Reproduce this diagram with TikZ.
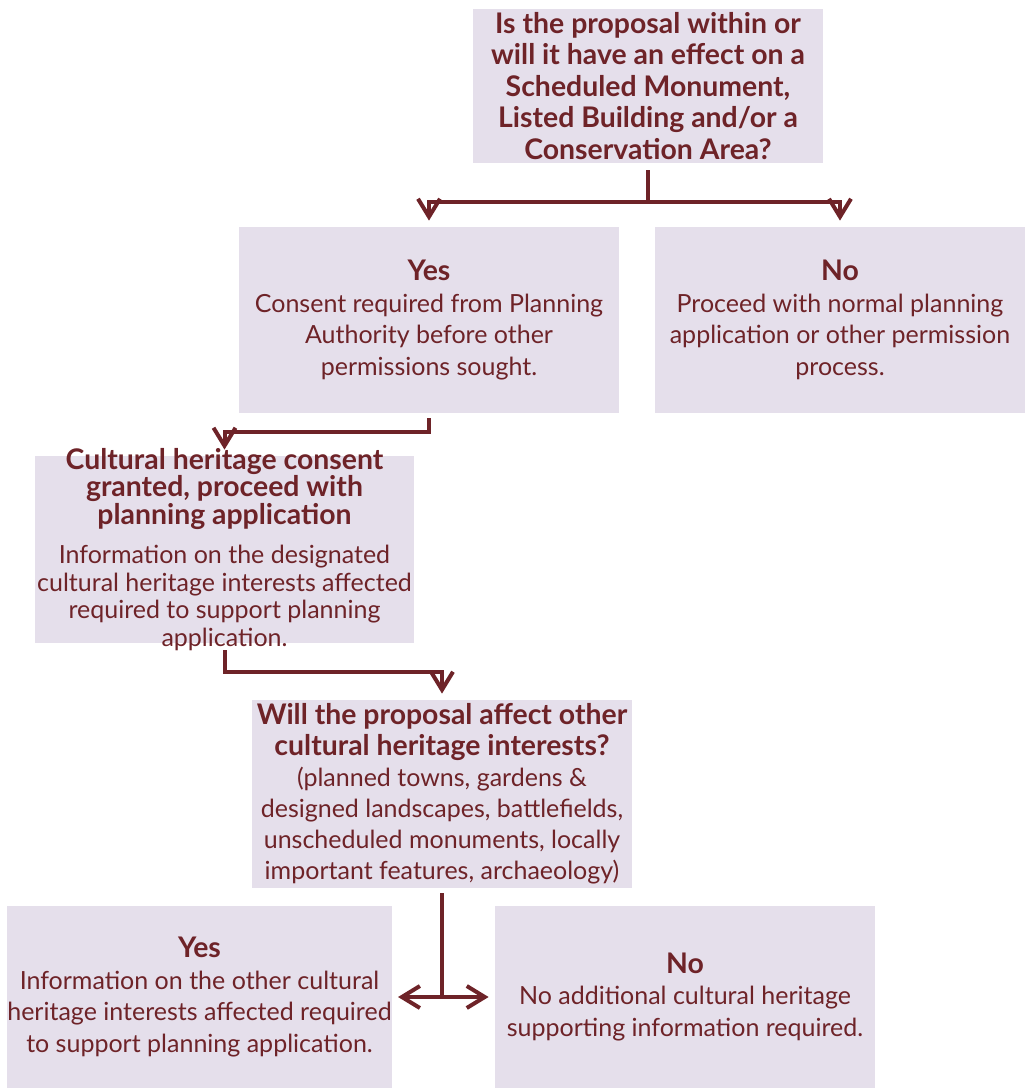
\documentclass[tikz,border=0pt]{standalone}
\usepackage{fontspec}
\setmainfont{Lato}
\usetikzlibrary{arrows.meta,calc}
\definecolor{maroon}{RGB}{110,35,40}
\definecolor{boxfill}{RGB}{229,223,235}
\newcommand{\hd}[1]{{\fontsize{14.2}{15.75}\selectfont\bfseries #1}}
\newcommand{\hdc}[1]{{\fontsize{14.2}{13.75}\selectfont\bfseries #1}}
\tikzset{
  box/.style={fill=boxfill,text=maroon,align=center,inner sep=0pt,font=\fontsize{12.5}{15.75}\selectfont},
  boxtext/.style={text=maroon,align=center,inner sep=0pt,font=\fontsize{12.5}{13.75}\selectfont},
  link/.style={draw=maroon,line width=2pt},
  arr/.style={link,-{Straight Barb[length=9pt,width=11pt]},shorten >=3pt}
}
\begin{document}
\begin{tikzpicture}[x=0.5pt,y=-0.5pt]
		\useasboundingbox (0,0) rectangle (1025,1088);
		\node[box,minimum width=175pt,minimum height=77pt] (q1) at (648,86) {\hd{Is the proposal within or}\\ \hd{will it have an effect on a}\\ \hd{Scheduled Monument,}\\ \hd{Listed Building and/or a}\\ \hd{Conservation Area?}};
		\node[box,minimum width=190pt,minimum height=93pt] (yes1) at (429,320) {\hd{Yes}\\ Consent required from Planning\\ Authority before other\\ permissions sought.};
		\node[box,minimum width=185pt,minimum height=93pt] (no1) at (840,320) {\hd{No}\\ Proceed with normal planning\\ application or other permission\\ process.};
		\node[box,minimum width=189.5pt,minimum height=93.5pt] (cons) at (224.5,549.5) {};
		\node[boxtext] (constext) at (cons.center) {\hdc{Cultural heritage consent}\\ \hdc{granted, proceed with}\\ \hdc{planning application}\\[6pt] Information on the designated\\ cultural heritage interests affected\\ required to support planning\\ application.};
		\node[box,minimum width=190pt,minimum height=94pt,font=\fontsize{12.5}{15.5}\selectfont] (q2) at (442,794) {\hd{Will the proposal affect other}\\ \hd{cultural heritage interests?}\\ (planned towns, gardens \&\\ designed landscapes, battlefields,\\ unscheduled monuments, locally\\ important features, archaeology)};
		\node[box,minimum width=189.5pt,minimum height=91pt] (yes2) at (199.5,997) {\hd{Yes}\\ Information on the other cultural\\ heritage interests affected required\\ to support planning application.};
		\node[box,minimum width=190pt,minimum height=91pt] (no2) at (685,997) {\hd{No}\\ No additional cultural heritage\\ supporting information required.};
		\draw[link] ([yshift=-3.5pt]q1.south) -- ++(0,-16pt) coordinate (j1);
		\draw[arr] (j1) -| (yes1.north);
		\draw[arr] (j1) -| (no1.north);
		\draw[arr] ([yshift=-2.5pt]yes1.south) -- ++(0,-7pt) -| (cons.north);
		\draw[arr] ([yshift=-3.5pt]cons.south) -- ++(0,-11pt) -| (q2.north);
		\draw[link] ([yshift=-2.5pt]q2.south) -- (q2.south |- yes2.east) coordinate (j4);
		\draw[arr] (j4) -- (yes2.east);
		\draw[arr] (j4) -- (no2.west);
\end{tikzpicture}
\end{document}
